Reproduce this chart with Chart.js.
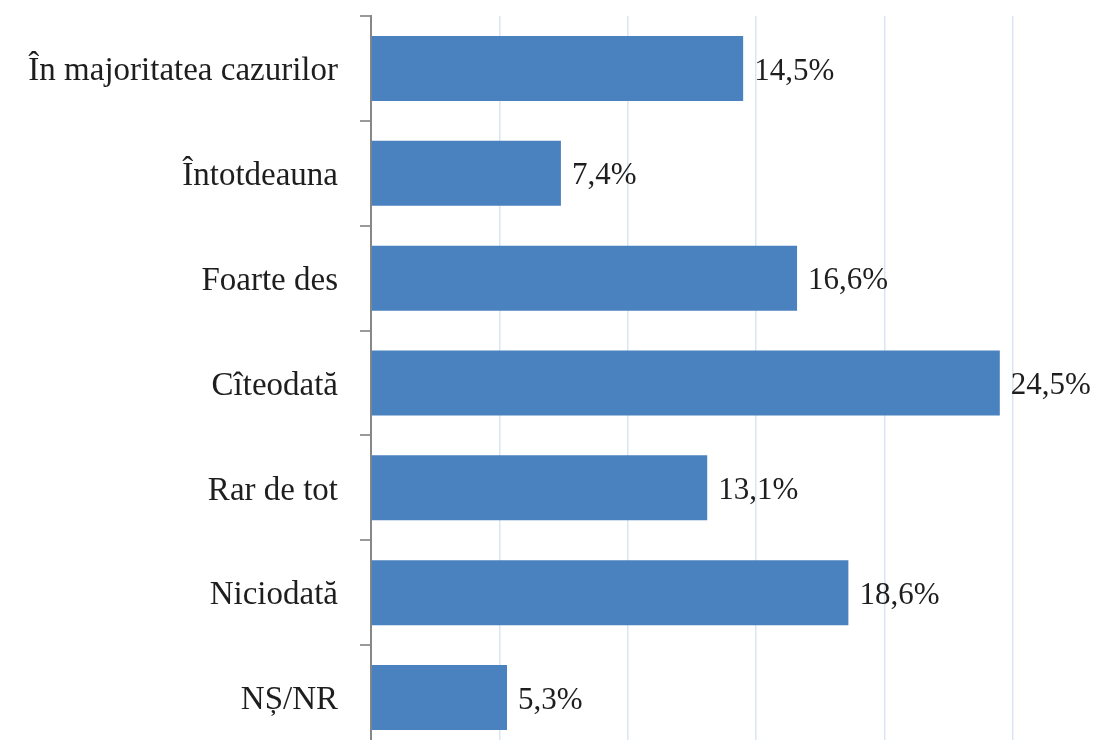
<!DOCTYPE html>
<html>
<head>
<meta charset="utf-8">
<script src="https://cdn.jsdelivr.net/npm/chart.js@4.4.1/dist/chart.umd.min.js"></script>
<style>
  html, body { margin: 0; padding: 0; background: #fff; overflow: hidden; }
  #wrap { width: 1094px; height: 752px; }
</style>
</head>
<body>
<div id="wrap"><canvas id="myChart" width="1094" height="752"></canvas></div>
<script>
const categories = ["În majoritatea cazurilor", "Întotdeauna", "Foarte des", "Cîteodată", "Rar de tot", "Niciodată", "NȘ/NR"];
const percents = [14.5, 7.4, 16.6, 24.5, 13.1, 18.6, 5.3];
const gridSteps = [0, 5, 10, 15, 20, 25];

const fontFamily = '"Liberation Serif", "DejaVu Serif", serif';

// value labels at the end of each bar
const valueLabels = {
  id: 'valueLabels',
  afterDatasetsDraw(chart) {
    const c = chart.ctx;
    const meta = chart.getDatasetMeta(0);
    c.save();
    c.font = '31px ' + fontFamily;
    c.fillStyle = '#1e1e1e';
    c.textAlign = 'left';
    c.textBaseline = 'middle';
    meta.data.forEach(function(bar, i) {
      const txt = percents[i].toFixed(1).replace('.', ',') + '%';
      c.fillText(txt, bar.x + 11, bar.y + 3);
    });
    c.restore();
  }
};

const ctx = document.getElementById("myChart").getContext('2d');
const myChart = new Chart(ctx, {
  type: 'bar',
  data: {
    labels: categories,
    datasets: [{
      data: percents,
      backgroundColor: '#4a81bf',
      borderWidth: 0,
      categoryPercentage: 1,
      barPercentage: 0.62
    }]
  },
  options: {
    indexAxis: 'y',
    responsive: false,
    animation: false,
    layout: { padding: { top: 16, right: 0, bottom: 2, left: 0 } },
    plugins: {
      legend: { display: false },
      tooltip: { enabled: false }
    },
    scales: {
      x: {
        min: 0,
        max: 28.17,
        afterBuildTicks: function(scale) {
          scale.ticks = gridSteps.map(function(v) { return { value: v }; });
        },
        afterFit: function(scale) {
          scale.height = 0;
          scale.paddingLeft = 0;
          scale.paddingRight = 0;
        },
        ticks: { display: false },
        border: { display: false },
        grid: {
          drawTicks: false,
          lineWidth: 1.5,
          color: function(c) { return c.tick && c.tick.value === 0 ? 'rgba(0,0,0,0)' : '#dbe5f1'; }
        }
      },
      y: {
        afterFit: function(scale) {
          scale.width = 371;
          scale.paddingTop = 0;
          scale.paddingBottom = 0;
        },
        border: { display: true, color: '#878787', width: 2 },
        grid: {
          drawOnChartArea: false,
          tickLength: 11,
          color: '#9a9a9a',
          lineWidth: 2
        },
        ticks: {
          padding: 22,
          labelOffset: 3,
          color: '#1e1e1e',
          font: { family: fontFamily, size: 33 }
        }
      }
    }
  },
  plugins: [valueLabels]
});
</script>
</body>
</html>
